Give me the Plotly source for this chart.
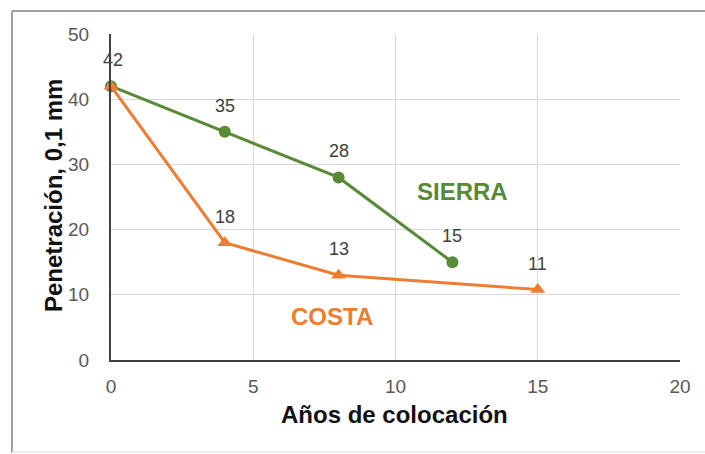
import plotly.graph_objects as go

# Data
years_sierra = [0, 4, 8, 12]
pen_sierra = [42, 35, 28, 15]
labels_sierra = ["42", "35", "28", "15"]

years_costa = [0, 4, 8, 15]
pen_costa = [42, 18, 13, 10.8]
labels_costa = ["42", "18", "13", "11"]

x_ticks = [0, 5, 10, 15, 20]
y_ticks = [0, 10, 20, 30, 40, 50]

GREEN = "#588a38"
ORANGE = "#ed7d31"
FONT = "Liberation Sans, Arial, sans-serif"

fig = go.Figure()
fig.add_trace(go.Scatter(
    x=years_sierra, y=pen_sierra, mode="lines+markers", name="SIERRA",
    line=dict(color=GREEN, width=3),
    marker=dict(symbol="circle", size=12, color=GREEN),
    cliponaxis=False, showlegend=False,
))
fig.add_trace(go.Scatter(
    x=years_costa, y=pen_costa, mode="lines+markers", name="COSTA",
    line=dict(color=ORANGE, width=3),
    marker=dict(symbol="triangle-up", size=13, color=ORANGE),
    cliponaxis=False, showlegend=False,
))

annotations = []
for i, (x, y, t) in enumerate(zip(years_sierra, pen_sierra, labels_sierra)):
    annotations.append(dict(x=x, y=y, text=t, showarrow=False, yshift=26,
                            xshift=2 if i == 0 else 0,
                            font=dict(family=FONT, size=18, color="#404040")))
for i, (x, y, t) in enumerate(zip(years_costa, pen_costa, labels_costa)):
    if i == 0:
        continue
    annotations.append(dict(x=x, y=y, text=t, showarrow=False, yshift=26,
                            font=dict(family=FONT, size=18, color="#404040")))

annotations.append(dict(x=12.34, y=25.8, text="<b>SIERRA</b>", showarrow=False,
                        xanchor="center", yanchor="middle",
                        font=dict(family=FONT, size=24, color=GREEN)))
annotations.append(dict(x=7.77, y=6.6, text="<b>COSTA</b>", showarrow=False,
                        xanchor="center", yanchor="middle",
                        font=dict(family=FONT, size=24, color=ORANGE)))

# Axis titles
annotations.append(dict(xref="paper", yref="paper", x=-0.1019, y=0.503,
                        xanchor="center", yanchor="middle",
                        text="<b>Penetración, 0,1 mm</b>", textangle=-90,
                        showarrow=False, font=dict(family=FONT, size=24, color="#111111")))
annotations.append(dict(xref="paper", yref="paper", x=0.499, y=-0.1687,
                        xanchor="center", yanchor="middle",
                        text="<b>Años de colocación</b>",
                        showarrow=False, font=dict(family=FONT, size=24, color="#111111")))

shapes = [
    dict(type="line", xref="paper", yref="paper", x0=-0.174, x1=-0.174, y0=-0.285, y1=1.0706,
         line=dict(color="#a0a0a0", width=2)),
    dict(type="line", xref="paper", yref="paper", x0=-0.174, x1=1.06, y0=1.0706, y1=1.0706,
         line=dict(color="#a0a0a0", width=2)),
    dict(type="line", xref="paper", yref="paper", x0=-0.174, x1=1.06, y0=-0.282, y1=-0.282,
         line=dict(color="#ececec", width=2)),
]

fig.update_layout(
    width=705, height=454,
    margin=dict(l=111, r=25, t=34, b=94),
    paper_bgcolor="white", plot_bgcolor="white",
    font=dict(family=FONT),
    annotations=annotations,
    shapes=shapes,
    xaxis=dict(range=[0, 20], tickvals=x_ticks, showgrid=True, gridcolor="#d9d9d9",
               gridwidth=1, zeroline=False, showline=True, linecolor="#404040", linewidth=2,
               ticks="outside", ticklen=8, tickcolor="rgba(0,0,0,0)",
               tickfont=dict(family=FONT, size=19, color="#595959")),
    yaxis=dict(range=[0, 50], tickvals=y_ticks, showgrid=True, gridcolor="#d9d9d9",
               gridwidth=1, zeroline=False, showline=True, linecolor="#404040", linewidth=2,
               ticks="outside", ticklen=16, tickcolor="rgba(0,0,0,0)",
               tickfont=dict(family=FONT, size=19, color="#595959")),
)

fig.write_html("out.html")
